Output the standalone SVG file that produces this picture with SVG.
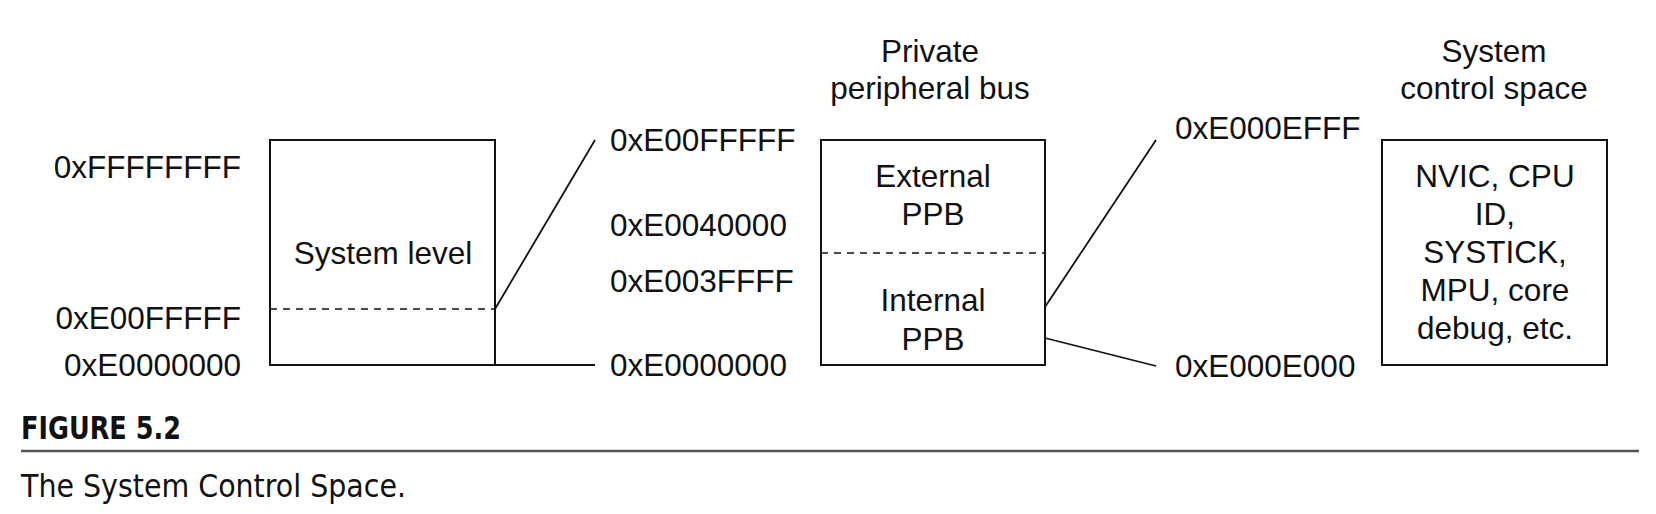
<svg xmlns="http://www.w3.org/2000/svg" width="1656" height="514" viewBox="0 0 1656 514">
<style>
text{font-family:"Liberation Sans",Arial,sans-serif;font-size:31.5px;fill:#111}
.box{fill:none;stroke:#111;stroke-width:2}
.dash{stroke:#111;stroke-width:1.6;stroke-dasharray:7,6;fill:none}
.con{stroke:#111;stroke-width:1.8;fill:none}
.r{text-anchor:end}
.m{text-anchor:middle}
.cap{font-family:"Liberation Sans Narrow","DejaVu Sans Condensed",sans-serif;font-stretch:condensed}
</style>
<rect width="1656" height="514" fill="#fff"/>
<g id="system-level">
<rect class="box" x="270" y="140" width="225" height="225"/>
<line class="dash" x1="270" y1="309" x2="495" y2="309"/>
<text class="m" x="383" y="264">System level</text>
<text class="r" x="241" y="178">0xFFFFFFFF</text>
<text class="r" x="241" y="329">0xE00FFFFF</text>
<text class="r" x="241" y="376">0xE0000000</text>
</g>
<g id="ppb">
<text class="m" x="930" y="62">Private</text>
<text class="m" x="930" y="99">peripheral bus</text>
<rect class="box" x="821" y="140" width="224" height="225"/>
<line class="dash" x1="821" y1="253" x2="1045" y2="253"/>
<text class="m" x="933" y="187">External</text>
<text class="m" x="933" y="225">PPB</text>
<text class="m" x="933" y="311">Internal</text>
<text class="m" x="933" y="350">PPB</text>
<text x="610" y="151">0xE00FFFFF</text>
<text x="610" y="236">0xE0040000</text>
<text x="610" y="292">0xE003FFFF</text>
<text x="610" y="376">0xE0000000</text>
</g>
<g id="scs">
<text class="m" x="1494" y="62">System</text>
<text class="m" x="1494" y="99">control space</text>
<rect class="box" x="1382" y="140" width="225" height="225"/>
<text class="m" x="1495" y="187">NVIC, CPU</text>
<text class="m" x="1495" y="225">ID,</text>
<text class="m" x="1495" y="263">SYSTICK,</text>
<text class="m" x="1495" y="301">MPU, core</text>
<text class="m" x="1495" y="339">debug, etc.</text>
<text x="1175" y="139">0xE000EFFF</text>
<text x="1175" y="377">0xE000E000</text>
</g>
<g id="connectors">
<line class="con" x1="495" y1="309" x2="595" y2="140"/>
<line class="con" x1="495" y1="365" x2="595" y2="365"/>
<line class="con" x1="1045" y1="307" x2="1156" y2="140"/>
<line class="con" x1="1045" y1="338" x2="1156" y2="366"/>
</g>
<g id="caption">
<text class="cap" x="21" y="439" font-weight="bold" font-size="33" textLength="160" lengthAdjust="spacingAndGlyphs">FIGURE 5.2</text>
<line x1="21" y1="451" x2="1639" y2="451" stroke="#555" stroke-width="2.5"/>
<text class="cap" x="21" y="497" font-size="37" fill="#222" textLength="385" lengthAdjust="spacingAndGlyphs">The System Control Space.</text>
</g>
</svg>
